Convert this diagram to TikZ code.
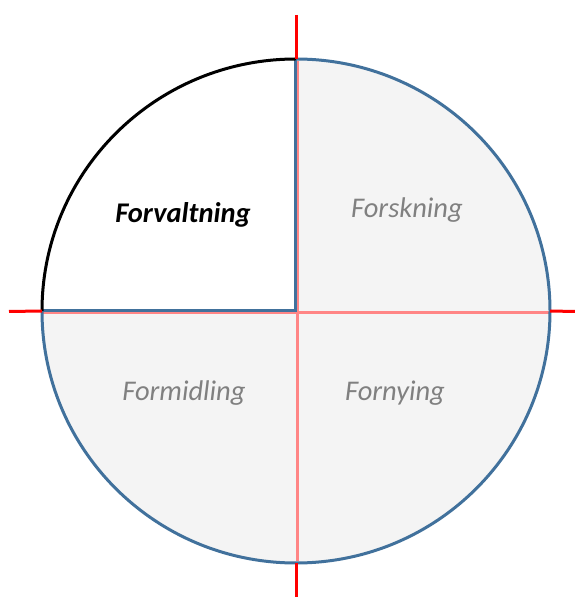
\documentclass[tikz,border=0pt]{standalone}
\usepackage{fontspec}
\setmainfont{Carlito}
\definecolor{qgray}{HTML}{F4F4F4}
\definecolor{qblue}{HTML}{41719C}
\definecolor{qpink}{HTML}{FF8585}
\definecolor{qred}{HTML}{FF0000}
\definecolor{qtext}{HTML}{808080}
\begin{document}
\begin{tikzpicture}[x=1pt,y=1pt,
  lbl/.style={font=\fontsize{28.5}{32}\selectfont\itshape, text=qtext, inner sep=0pt},
  redline/.style={qred, line width=3pt},
  pinkline/.style={qpink, line width=2.5pt},
  blueline/.style={qblue, line width=2.5pt}]
\useasboundingbox (0,0) rectangle (575,597);
% centre (296,286) in y-up coords
\coordinate (c) at (296,286);
\coordinate (L) at (42,286);
\coordinate (R) at (550,286);
\coordinate (T) at (296,538);
\coordinate (B) at (296,34);
% gray disc
\fill[qgray] (c) ellipse [x radius=254, y radius=252];
% white quadrant
\fill[white] (c) -- (L) arc[start angle=180, end angle=90, x radius=254, y radius=252] -- cycle;
% pink inner cross
\draw[pinkline] (43,284.5) -- (549,284.5);
\draw[pinkline] (297.5,536) -- (297.5,36);
% blue edges of white quadrant
\draw[blueline] (43,286.5) -- (295.5,286.5) -- (295.5,537);
% outline
\draw[qblue, line width=3pt] (T) arc[start angle=90, end angle=-180, x radius=254, y radius=252];
\draw[black, line width=3pt] (L) arc[start angle=180, end angle=90, x radius=254, y radius=252];
% red outer lines
\draw[redline] (296,582) -- (T);
\draw[redline] (B) -- (296,0);
\draw[redline] (9,285.5) -- (L);
\draw[redline] (R) -- (575,285.5);
% labels
\node[lbl, text=black, font=\fontsize{28.5}{32}\selectfont\bfseries\itshape] (forv) at (183,382) {Forvaltning};
\node[lbl] (forsk) at (407,387) {Forskning};
\node[lbl] (formid) at (184,204) {Formidling};
\node[lbl] (forny) at (395,204) {Fornying};
\end{tikzpicture}
\end{document}
